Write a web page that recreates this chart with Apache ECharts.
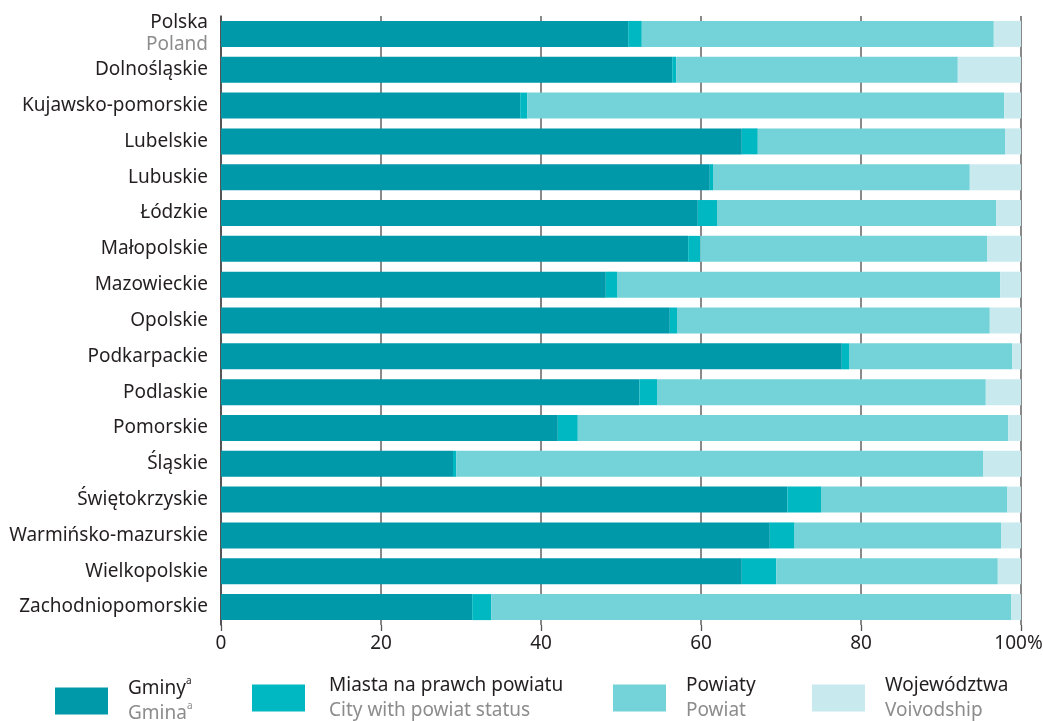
<!DOCTYPE html>
<html>
<head>
<meta charset="utf-8">
<script src="https://cdn.jsdelivr.net/npm/echarts@6/dist/echarts.min.js"></script>
<style>
html,body{margin:0;padding:0;background:#fff}
#main{width:1043px;height:721px}
</style>
</head>
<body>
<div id="main"></div>
<script>
// województwa, od góry
const regions = ["Polska","Dolnośląskie","Kujawsko-pomorskie","Lubelskie","Lubuskie","Łódzkie","Małopolskie","Mazowieckie","Opolskie","Podkarpackie","Podlaskie","Pomorskie","Śląskie","Świętokrzyskie","Warmińsko-mazurskie","Wielkopolskie","Zachodniopomorskie"]

// udzialy w %
const gminy     = [50.9, 56.4, 37.4, 65.1, 61.1, 59.6, 58.4, 48.1, 56.1, 77.6, 52.3, 42.1, 29.0, 70.8, 68.6, 65.1, 31.4]
const miasta    = [1.7, 0.5, 0.9, 2.0, 0.4, 2.4, 1.5, 1.4, 0.9, 0.9, 2.2, 2.5, 0.4, 4.2, 3.1, 4.3, 2.4]
const powiaty   = [44.0, 35.2, 59.6, 30.9, 32.1, 34.9, 35.9, 47.9, 39.1, 20.4, 41.1, 53.8, 65.9, 23.3, 25.8, 27.7, 65.0]
const wojewodz  = [3.4, 7.9, 2.1, 2.0, 6.4, 3.1, 4.2, 2.6, 3.9, 1.1, 4.4, 1.6, 4.7, 1.7, 2.5, 2.9, 1.2]

const xTicks = [0, 20, 40, 60, 80, 100]

const seriesNames = ["Gminy", "Miasta na prawch powiatu", "Powiaty", "Województwa"]
const seriesNamesEn = ["Gmina", "City with powiat status", "Powiat", "Voivodship"]
const seriesSup = ["a", "", "", ""]
const colors = ["#0099aa", "#00b8c2", "#74d3d9", "#c8eaee"]
const legendLeft = [50, 247, 608, 807]
const legendTextGap = [15, 19, 15, 15]

const font = "'Noto Sans', 'DejaVu Sans', sans-serif"

var myChart = echarts.init(document.getElementById('main'))

const legends = seriesNames.map((name, i) => ({
	data: [name],
	left: legendLeft[i],
	top: 671,
	icon: 'rect',
	itemWidth: 53,
	itemHeight: 27,
	selectedMode: false,
	formatter: (n) => {
		let s = '{a|' + n + '}' + (seriesSup[i] ? '{s|' + seriesSup[i] + '}' : '')
		s += '\n{b|' + seriesNamesEn[i] + '}' + (seriesSup[i] ? '{t|' + seriesSup[i] + '}' : '')
		return s
	},
	textStyle: {
		padding: [0, 0, 0, legendTextGap[i]],
		rich: {
			a: { fontFamily: font, fontSize: 19, color: "#231f20", lineHeight: 25 },
			b: { fontFamily: font, fontSize: 19, color: "#8c8c8c", lineHeight: 25 },
			s: { fontFamily: font, fontSize: 10, color: "#231f20", verticalAlign: 'top', lineHeight: 25 },
			t: { fontFamily: font, fontSize: 10, color: "#8c8c8c", verticalAlign: 'top', lineHeight: 25 }
		}
	}
}))

const dataCols = [gminy, miasta, powiaty, wojewodz]

var option = {
	animation: false,
	legend: legends,
	grid: {
		left: 221,
		right: 22,
		top: 16,
		bottom: 96,
		outerBoundsMode: 'none',
		containLabel: false
	},
	xAxis: {
		type: 'value',
		min: 0,
		max: 100,
		interval: 20,
		axisLine: { show: false },
		axisTick: { show: true, length: 6, lineStyle: { color: "#555", width: 1.3 } },
		splitLine: { show: true, lineStyle: { color: "#626262", width: 1.5 } },
		axisLabel: {
			margin: 9,
			fontFamily: font,
			fontSize: 19,
			color: "#231f20",
			formatter: (v) => v === 100 ? '{p|' + v + '%}' : '' + v,
			rich: {
				p: { fontFamily: font, fontSize: 19, color: "#231f20", padding: [0, 5, 0, 0] }
			}
		}
	},
	yAxis: {
		type: 'category',
		inverse: true,
		data: regions,
		axisLine: { show: true, lineStyle: { color: "#444", width: 1.5 } },
		axisTick: { show: false },
		axisLabel: {
			margin: 13,
			fontFamily: font,
			fontSize: 19,
			color: "#231f20",
			formatter: (v) => v === 'Polska' ? '{a|Polska}\n{b|Poland}' : v,
			rich: {
				a: { fontFamily: font, fontSize: 19, color: "#231f20", lineHeight: 22, align: 'right' },
				b: { fontFamily: font, fontSize: 19, color: "#8c8c8c", lineHeight: 22, align: 'right' }
			}
		}
	},
	series: seriesNames.map((name, i) => ({
		name: name,
		type: 'bar',
		stack: 'total',
		barWidth: 26,
		itemStyle: { color: colors[i] },
		data: dataCols[i]
	}))
}
myChart.setOption(option)
</script>
</body>
</html>
